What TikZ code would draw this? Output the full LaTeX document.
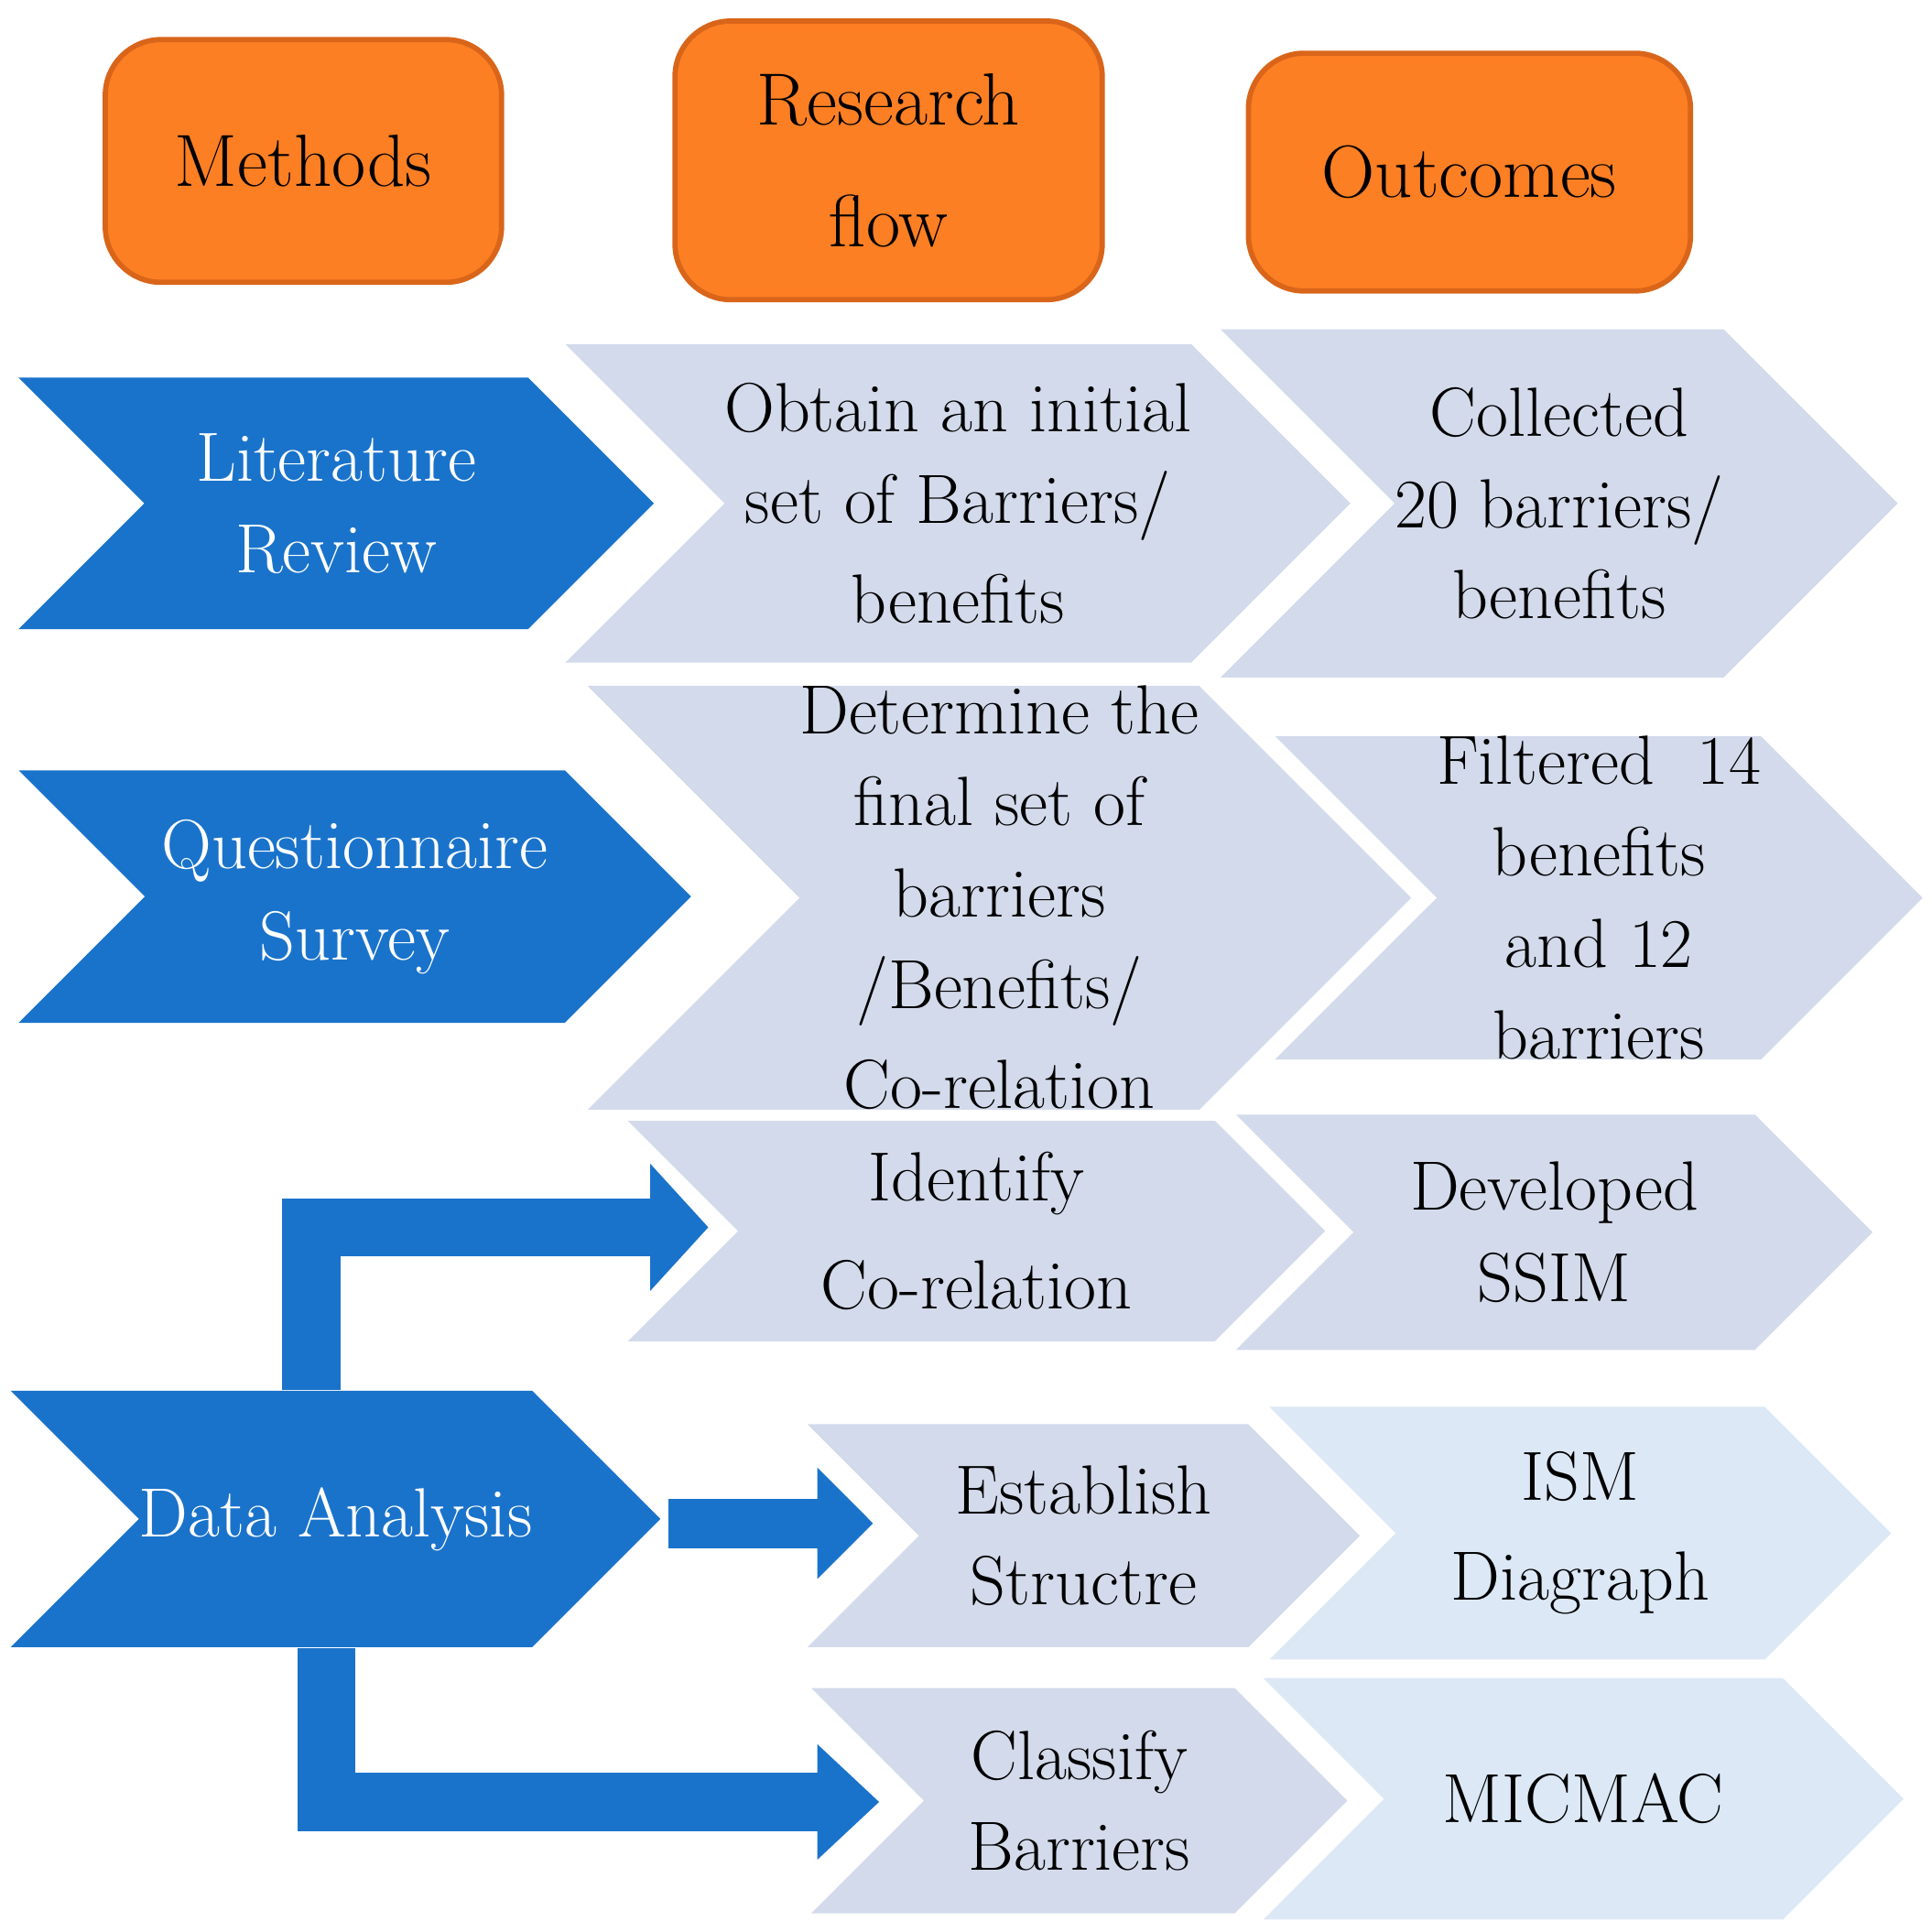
\documentclass[tikz,border=0pt]{standalone}
\usepackage{tikz}
\usetikzlibrary{positioning, shapes.symbols, arrows.meta}
\definecolor{headorange}{HTML}{FD7F23}
\definecolor{headedge}{HTML}{D9651A}
\definecolor{stepblue}{HTML}{1A73CB}
\definecolor{stepedge}{HTML}{1660AE}
\definecolor{flowgray}{HTML}{D3DAEB}
\definecolor{flowpale}{HTML}{DCE8F6}
\begin{document}
\begin{tikzpicture}

\tikzset{head_style/.style={rectangle, rounded corners=0.45cm, draw=headedge, line width=1.2pt, fill=headorange, align=center, font=\fontsize{17}{28}\selectfont},
chev_style/.style={signal, signal from=west, signal to=east, signal pointer angle=90, inner sep=0pt, align=center, font=\fontsize{16}{21}\selectfont},
method_style/.style={chev_style, fill=stepblue, text=white},
flow_style/.style={chev_style, fill=flowgray},
pale_style/.style={chev_style, fill=flowpale},
link_style/.style={draw=stepblue, line width=#1}}

\useasboundingbox (0,0) rectangle (15.6,15.6);

\node[head_style, minimum width=3.2cm, minimum height=1.96cm] (methods) at (2.45, 14.30) {Methods};
\node[head_style, minimum width=3.45cm, minimum height=2.25cm] (flow) at (7.175, 14.305) {Research\\flow};
\node[head_style, minimum width=3.57cm, minimum height=1.92cm] (outcomes) at (11.865, 14.21) {Outcomes};

\node[method_style, minimum width=5.13cm, minimum height=2.03cm] (lit) at (2.715, 11.535) {Literature\\Review};
\node[flow_style, minimum width=6.23cm, minimum height=2.57cm] (obtain) at (7.735, 11.535) {Obtain an initial\\set of Barriers/\\[2pt]benefits};
\node[flow_style, minimum width=5.42cm, minimum height=2.81cm] (collected) at (12.59, 11.535) {Collected\\20 barriers/\\benefits};

\node[method_style, minimum width=5.43cm, minimum height=2.04cm] (quest) at (2.865, 8.36) {Questionnaire\\Survey};
\node[flow_style, minimum width=6.3cm, minimum height=3.06cm] (determine) at (8.07, 8.35) {Determine the\\final set of\\barriers\\/Benefits/\\[2pt]Co-relation};
\node[flow_style, minimum width=5.22cm, minimum height=2.5cm] (filtered) at (12.91, 8.35) {Filtered\ \ 14\\benefits\\and 12\\barriers};

\node[flow_style, minimum width=5.63cm, minimum height=1.78cm] (identify) at (7.885, 5.66) {Identify\\[4pt]Co-relation};
\node[flow_style, minimum width=5.14cm, minimum height=1.9cm] (ssim) at (12.55, 5.65) {Developed\\SSIM};

\node[method_style, minimum width=5.12cm, minimum height=2.07cm] (da) at (2.71, 3.335) {Data Analysis};
\node[flow_style, minimum width=4.46cm, minimum height=1.8cm] (establish) at (8.75, 3.20) {Establish\\Structre};
\node[pale_style, minimum width=5.02cm, minimum height=2.04cm] (ism) at (12.76, 3.22) {ISM\\[2pt]Diagraph};

\node[flow_style, minimum width=4.33cm, minimum height=1.82cm] (classify) at (8.715, 1.06) {Classify\\Barriers};
\node[pale_style, minimum width=5.17cm, minimum height=1.95cm] (micmac) at (12.785, 1.075) {MICMAC};

\coordinate (toidentify) at (5.72, 5.69);
\coordinate (fromda) at (5.40, 3.30);
\coordinate (toestablish) at (7.05, 3.30);
\coordinate (toclassify) at (7.10, 1.05);

\draw[link_style=0.47cm, -{Triangle[length=0.47cm 0 0, width=1.0cm 0 0]}] ([xshift=-1.95mm]da.north) |- (toidentify);
\draw[link_style=0.40cm, -{Triangle[length=0.45cm 0 0, width=0.87cm 0 0]}] (fromda) -- (toestablish);
\draw[link_style=0.47cm, -{Triangle[length=0.5cm 0 0, width=0.9cm 0 0]}] ([xshift=-0.75mm]da.south) |- (toclassify);

\end{tikzpicture}
\end{document}
